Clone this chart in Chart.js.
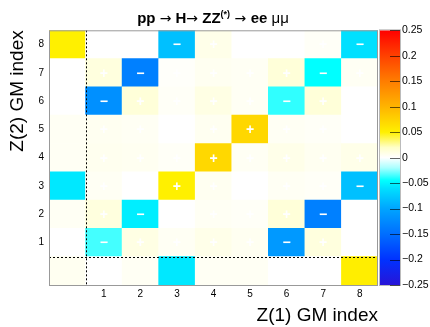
<!DOCTYPE html>
<html>
<head>
<meta charset="utf-8">
<script src="https://cdn.jsdelivr.net/npm/chart.js@4.4.1/dist/chart.umd.min.js"></script>
<style>
  html, body { margin: 0; padding: 0; background: #fff; }
  #wrap { width: 430px; height: 327px; }
</style>
</head>
<body>
<div id="wrap"><canvas id="gmChart" width="430" height="327"></canvas></div>
<script>
// Z(1) GM index along x (index 0 = no match, no label)
const xLabels = ["", "1", "2", "3", "4", "5", "6", "7", "8"];
const yTickValues = [1, 2, 3, 4, 5, 6, 7, 8];
const cbTickValues = [-0.25, -0.2, -0.15, -0.1, -0.05, 0, 0.05, 0.1, 0.15, 0.2, 0.25];

// cell values, one array per Z(2) GM index, columns = Z(1) GM index 0..8
const row0 = [0.005, 0, 0.004, -0.056, 0.004, 0.004, 0, 0, 0.052];
const row1 = [0, -0.035, 0.010, 0.004, 0.008, 0.005, -0.111, 0.012, 0];
const row2 = [0.004, 0.012, -0.053, 0, 0.004, 0.003, 0.014, -0.134, 0];
const row3 = [-0.056, 0.004, 0, 0.050, 0.005, 0, 0.004, 0.003, -0.082];
const row4 = [0.004, 0.006, 0.005, 0.003, 0.070, 0.004, 0.008, 0.005, 0.008];
const row5 = [0.004, 0.005, 0.004, 0, 0.005, 0.071, 0.004, 0.003, 0];
const row6 = [0, -0.119, 0.014, 0.003, 0.010, 0.004, -0.038, 0.014, 0];
const row7 = [0, 0.012, -0.134, 0.002, 0.005, 0.004, 0.014, -0.045, 0.004];
const row8 = [0.050, 0, 0, -0.082, 0.008, 0, 0, 0.003, -0.060];
const zRows = [row0, row1, row2, row3, row4, row5, row6, row7, row8];

// colour palette (value -> rgb), blue / white / red like the ROOT plot
const paletteStops = [
  [-0.25, [40, 20, 215]],
  [-0.2, [0, 50, 255]],
  [-0.15, [0, 110, 255]],
  [-0.1, [0, 165, 255]],
  [-0.06, [0, 224, 255]],
  [-0.045, [0, 255, 255]],
  [-0.02, [170, 255, 255]],
  [0, [255, 255, 255]],
  [0.02, [255, 255, 200]],
  [0.05, [255, 240, 0]],
  [0.1, [255, 180, 0]],
  [0.15, [255, 125, 0]],
  [0.2, [255, 65, 0]],
  [0.25, [255, 0, 0]]
];

function colorFor(v) {
  if (v <= paletteStops[0][0]) return `rgb(${paletteStops[0][1].join(",")})`;
  for (let i = 1; i < paletteStops.length; i++) {
    const [v1, c1] = paletteStops[i];
    if (v <= v1) {
      const [v0, c0] = paletteStops[i - 1];
      const t = (v - v0) / (v1 - v0);
      const c = c0.map((a, k) => Math.round(a + (c1[k] - a) * t));
      return `rgb(${c.join(",")})`;
    }
  }
  return `rgb(${paletteStops[paletteStops.length - 1][1].join(",")})`;
}

Chart.defaults.font.family = "'Liberation Sans', Arial, Helvetica, sans-serif";
Chart.defaults.color = "#000";

const datasets = zRows.map((row, y) => ({
  label: "Z2 = " + y,
  data: row.map(() => [y - 0.5, y + 0.5]),
  backgroundColor: row.map(colorFor),
  borderWidth: 0
}));

const fmtCb = v => {
  if (Math.abs(v) < 1e-9) return "0";
  const s = String(Math.round(Math.abs(v) * 100) / 100);
  return v < 0 ? "\u2212" + s : s;
};

// frame, dotted separators of index 0 and the +/- signs
const cellDecor = {
  id: "cellDecor",
  afterDatasetsDraw(chart) {
    const { ctx, chartArea: a, scales } = chart;
    const xs = scales.x, ys = scales.y;
    ctx.save();
    ctx.fillStyle = "#fff";
    ctx.font = "bold 14px 'Liberation Sans', Arial, sans-serif";
    ctx.textAlign = "center";
    ctx.textBaseline = "middle";
    zRows.forEach((row, y) => {
      if (y === 0) return;
      row.forEach((v, x) => {
        if (x === 0 || v === 0) return;
        ctx.fillText(v > 0 ? "+" : "\u2212", xs.getPixelForValue(x), ys.getPixelForValue(y) + 1);
      });
    });
    const sepX = (xs.getPixelForValue(0) + xs.getPixelForValue(1)) / 2;
    const sepY = ys.getPixelForValue(0.5);
    ctx.strokeStyle = "#000";
    ctx.lineWidth = 1;
    ctx.setLineDash([2, 2]);
    ctx.beginPath();
    ctx.moveTo(Math.round(sepX) + 0.5, a.top);
    ctx.lineTo(Math.round(sepX) + 0.5, a.bottom);
    ctx.moveTo(a.left, Math.round(sepY) + 0.5);
    ctx.lineTo(a.right, Math.round(sepY) + 0.5);
    ctx.stroke();
    ctx.setLineDash([]);
    ctx.strokeStyle = "#999";
    ctx.strokeRect(a.left + 0.5, a.top + 0.5, a.right - a.left - 1, a.bottom - a.top);
    ctx.restore();
  }
};

// colour bar next to the plot, drawn along the "cb" scale
const colorBar = {
  id: "colorBar",
  afterDraw(chart) {
    const { ctx } = chart;
    const cb = chart.scales.cb;
    const x0 = cb.left + 2, w = 20;
    const top = cb.getPixelForValue(0.25), bot = cb.getPixelForValue(-0.25);
    const g = ctx.createLinearGradient(0, bot, 0, top);
    paletteStops.forEach(([v]) => g.addColorStop((v + 0.25) / 0.5, colorFor(v)));
    ctx.save();
    ctx.fillStyle = g;
    ctx.fillRect(x0, top, w, bot - top);
    ctx.strokeStyle = "#bbb";
    ctx.lineWidth = 1;
    ctx.strokeRect(x0 - 0.5, top - 0.5, w + 1, bot - top + 1);
    ctx.strokeStyle = "rgba(0,0,0,0.6)";
    ctx.beginPath();
    cbTickValues.forEach(v => {
      const py = Math.round(cb.getPixelForValue(v)) + 0.5;
      ctx.moveTo(x0 + w, py);
      ctx.lineTo(x0 + w - 10, py);
    });
    ctx.stroke();
    ctx.restore();
  }
};

// title with superscript and symbol parts
const sans = " 'Liberation Sans', Arial, sans-serif";
const sym = " 'DejaVu Sans', sans-serif";
const titleParts = [
  ["pp ", "bold 15px" + sans, 0],
  ["\u2192", "14px" + sym, 0],
  [" H", "bold 15px" + sans, 0],
  ["\u2192", "14px" + sym, 0],
  [" ZZ", "bold 15px" + sans, 0],
  ["(*)", "bold 9px" + sans, -6],
  [" \u2192 ", "14px" + sym, 0],
  ["ee ", "bold 15px" + sans, 0],
  ["\u03bc\u03bc", "15px" + sans, 0]
];
const plotTitle = {
  id: "plotTitle",
  afterDraw(chart) {
    const { ctx } = chart;
    ctx.save();
    ctx.fillStyle = "#000";
    ctx.textBaseline = "alphabetic";
    ctx.textAlign = "left";
    let total = 0;
    titleParts.forEach(([t, f]) => { ctx.font = f; total += ctx.measureText(t).width; });
    let x = 213 - total / 2;
    titleParts.forEach(([t, f, dy]) => {
      ctx.font = f;
      ctx.fillText(t, x, 23 + dy);
      x += ctx.measureText(t).width;
    });
    ctx.restore();
  }
};

new Chart(document.getElementById("gmChart"), {
  type: "bar",
  data: { labels: xLabels, datasets },
  options: {
    responsive: false,
    animation: false,
    layout: { padding: { top: 30, left: 0, right: 0, bottom: 0 } },
    plugins: { legend: { display: false }, tooltip: { enabled: false } },
    datasets: { bar: { barPercentage: 1, categoryPercentage: 1, grouped: false } },
    scales: {
      x: {
        type: "category",
        grid: { display: false, drawTicks: false },
        border: { display: false },
        ticks: { font: { size: 10 }, padding: 3, maxRotation: 0, autoSkip: false },
        title: { display: true, text: "Z(1) GM index", align: "end", font: { size: 19 }, padding: 0 },
        afterFit: s => { s.height = 42; }
      },
      y: {
        type: "linear",
        min: -0.5,
        max: 8.5,
        afterBuildTicks: s => { s.ticks = yTickValues.map(v => ({ value: v })); },
        grid: { display: false, drawTicks: false },
        border: { display: false },
        ticks: { font: { size: 10 }, padding: 5 },
        title: { display: true, text: "Z(2) GM index", align: "end", font: { size: 19 }, padding: { top: 6, bottom: 0 } },
        afterFit: s => { s.width = 49; }
      },
      cb: {
        type: "linear",
        position: "right",
        min: -0.25,
        max: 0.25,
        afterBuildTicks: s => { s.ticks = cbTickValues.map(v => ({ value: v })); },
        grid: { display: false, drawTicks: false },
        border: { display: false },
        ticks: { font: { size: 10.5 }, padding: 24, callback: v => fmtCb(v) },
        afterFit: s => { s.width = 52; }
      }
    }
  },
  plugins: [cellDecor, colorBar, plotTitle]
});
</script>
</body>
</html>
